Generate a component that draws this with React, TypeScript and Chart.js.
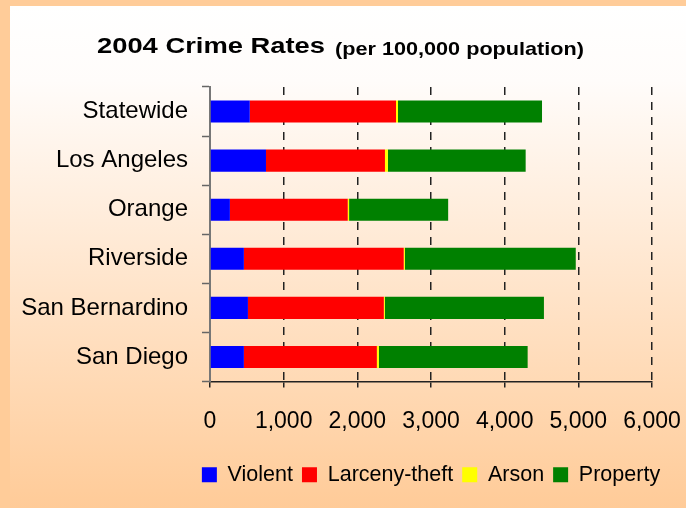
import React, { useEffect, useRef } from "react";
import { Chart, registerables } from "chart.js";

Chart.register(...registerables);

const categories = ["Statewide", "Los Angeles", "Orange", "Riverside", "San Bernardino", "San Diego"];
const violent = [540, 760, 270, 460, 515, 460];
const larceny = [1985, 1615, 1600, 2170, 1845, 1805];
const arson = [27, 40, 18, 15, 13, 27];
const property = [1955, 1870, 1345, 2320, 2160, 2020];
const seriesNames = ["Violent", "Larceny-theft", "Arson", "Property"];
const seriesColors = ["#0000ff", "#ff0000", "#ffff00", "#008000"];
const xMin = 0;
const xMax = 6000;
const xStep = 1000;
const titleMain = "2004 Crime Rates";
const titleSub = "(per 100,000 population)";

const FONT = "'Liberation Sans', Arial, sans-serif";

const backgroundPlugin = {
  id: "bgTitle",
  beforeDraw(chart: any) {
    const { ctx, width, height } = chart;
    ctx.save();
    ctx.fillStyle = "#ffcc99";
    ctx.fillRect(0, 0, width, height);
    const g = ctx.createLinearGradient(0, 6, 0, height);
    g.addColorStop(0, "#ffffff");
    g.addColorStop(0.15, "#fffcfa");
    g.addColorStop(1, "#ffcb98");
    ctx.fillStyle = g;
    ctx.fillRect(10, 6, width - 10, height - 6);

    // title
    ctx.fillStyle = "#000";
    ctx.textBaseline = "alphabetic";
    ctx.textAlign = "left";
    ctx.font = `bold 22px ${FONT}`;
    const w1 = ctx.measureText(titleMain).width;
    ctx.save();
    ctx.translate(97, 53);
    ctx.scale(228 / w1, 1);
    ctx.fillText(titleMain, 0, 0);
    ctx.restore();
    ctx.font = `bold 19px ${FONT}`;
    const w2 = ctx.measureText(titleSub).width;
    ctx.save();
    ctx.translate(335, 55);
    ctx.scale(249 / w2, 1);
    ctx.fillText(titleSub, 0, 0);
    ctx.restore();
    ctx.restore();
  },
  afterLayout(chart: any) {
    const lg = chart.legend;
    const ca = chart.chartArea;
    if (lg && ca) {
      const shift = (ca.left + ca.right) / 2 - (lg.left + lg.right) / 2;
      lg.left += shift;
      lg.right += shift;
    }
  },
};

export default function App() {
  const ref = useRef<HTMLCanvasElement | null>(null);

  useEffect(() => {
    if (!ref.current) return;
    const data = [violent, larceny, arson, property];
    const chart = new Chart(ref.current, {
      type: "bar",
      data: {
        labels: categories,
        datasets: seriesNames.map((name, i) => ({
          label: name,
          data: data[i],
          backgroundColor: seriesColors[i],
          borderWidth: 0,
          barPercentage: 0.45,
          categoryPercentage: 1,
        })),
      },
      options: {
        indexAxis: "y",
        responsive: false,
        animation: false,
        layout: { padding: { top: 87, right: 34, left: 0, bottom: 12.5 } },
        plugins: {
          title: { display: false },
          tooltip: { enabled: false },
          legend: {
            position: "bottom",
            align: "center",
            labels: {
              boxWidth: 15,
              boxHeight: 15,
              padding: 9,
              color: "#000",
              font: { size: 21.5, family: FONT },
            },
          },
        },
        scales: {
          x: {
            type: "linear",
            stacked: true,
            min: xMin,
            max: xMax,
            ticks: {
              stepSize: xStep,
              color: "#000",
              padding: 20,
              font: { size: 23, family: FONT },
              callback: (v: any) => Number(v).toLocaleString("en-US"),
            },
            grid: {
              color: (c: any) => (c.tick && c.tick.value === 0 ? "rgba(0,0,0,0)" : "#222"),
              lineWidth: 1.5,
              tickLength: 6,
              tickColor: "#222",
              tickWidth: 1.5,
            },
            border: { display: true, color: "#222", width: 1.5, dash: [8, 7] },
            afterFit: (s: any) => {
              s.height = 73.5;
              s.paddingRight = 0;
              s.paddingLeft = 0;
            },
          },
          y: {
            type: "category",
            stacked: true,
            ticks: {
              color: "#000",
              padding: 14,
              font: { size: 24, family: FONT },
            },
            grid: {
              offset: true,
              drawOnChartArea: false,
              tickLength: 8,
              tickColor: "#666",
              tickWidth: 1.5,
            },
            border: { display: true, color: "#777", width: 2 },
            afterFit: (s: any) => {
              s.width = 210;
            },
          },
        },
      },
      plugins: [backgroundPlugin],
    });
    return () => chart.destroy();
  }, []);

  return (
    <div style={{ position: "absolute", left: 0, top: 0, width: 686, height: 508 }}>
      <canvas ref={ref} width={686} height={508} style={{ display: "block", width: 686, height: 508 }} />
    </div>
  );
}
